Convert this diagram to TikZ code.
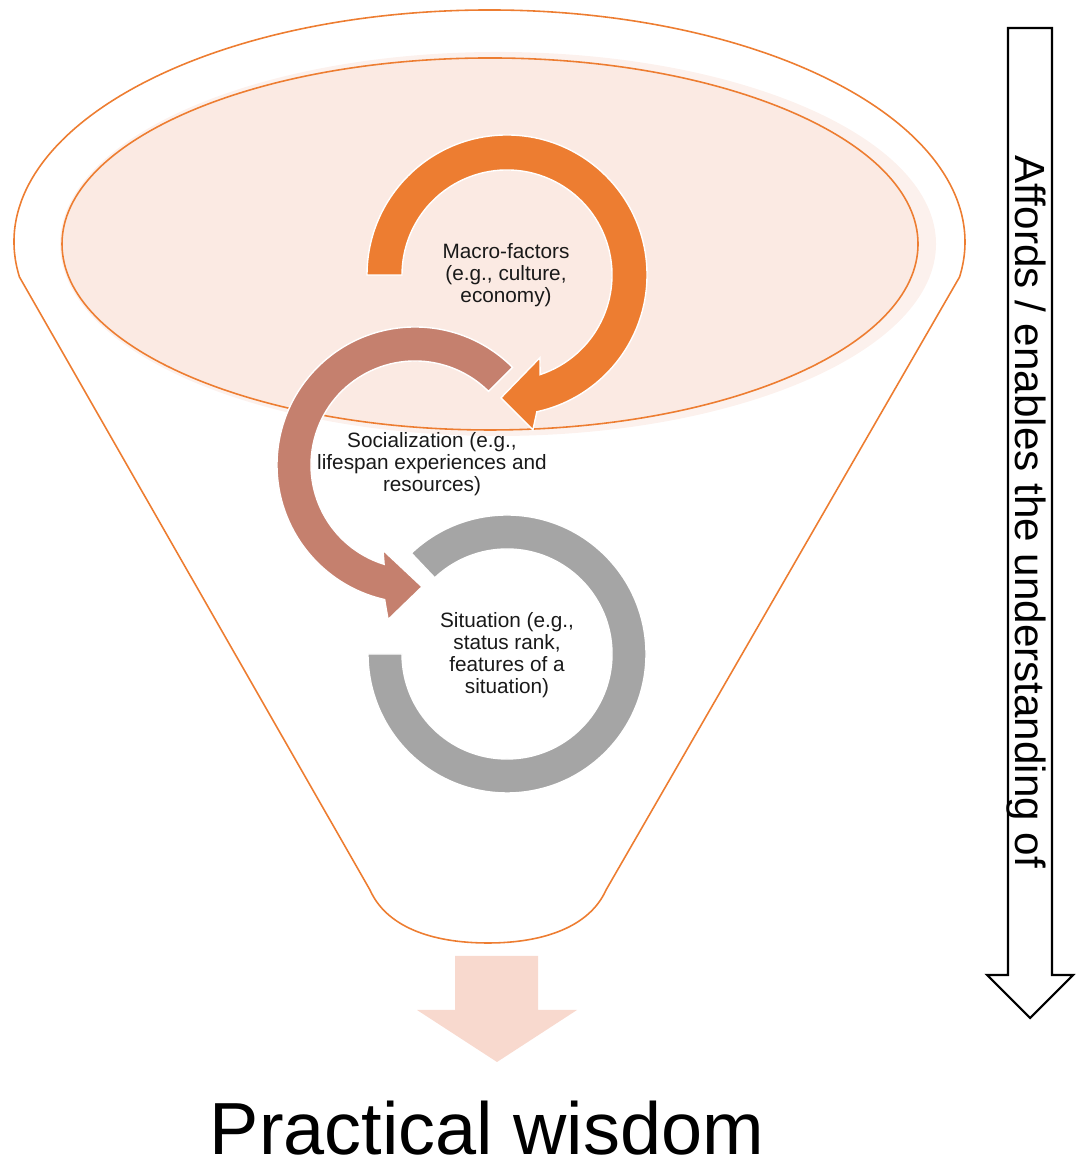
\documentclass[tikz,border=0pt]{standalone}
\usepackage{fontspec}
\setmainfont{Liberation Sans}
\usepackage{tikz}
\usetikzlibrary{calc}
\definecolor{macroOrange}{HTML}{ED7D31}
\definecolor{socialRose}{HTML}{C5806E}
\definecolor{situGray}{HTML}{A5A5A5}
\definecolor{funnelFill}{HTML}{FBEAE3}
\definecolor{funnelGlow}{HTML}{FCF1ED}
\definecolor{wisdomPink}{HTML}{F8D9CE}

\begin{document}
\begin{tikzpicture}[x=0.01cm, y=0.01cm,
        every node/.style={inner sep=0pt, align=center},
        ringtext/.style={font=\fontsize{5.9}{6.26}\selectfont, text=black!90},
        ring/.style={draw=white, line width=0.4pt},
        funnelline/.style={draw=macroOrange, line width=0.45pt}]
    \useasboundingbox (0,0) rectangle (1075,1171);

    % Funnel
    \draw[funnelline] (489.5,929) ++(188.7:475.5 and 232)
        arc[start angle=188.7, end angle=-8.7, x radius=475.5, y radius=232]
        -- (606,281) .. controls (590,245) and (545,228) .. (488,228)
        .. controls (430,228) and (386,245) .. (370,281) -- cycle;
    \fill[funnelGlow] (498,927) ellipse[x radius=438, y radius=192];
    \filldraw[fill=funnelFill, funnelline] (490,927) ellipse[x radius=428, y radius=186];

    % Define the ring centres
    \coordinate (mc) at (507,896);
    \coordinate (sc) at (415,706);
    \coordinate (gc) at (507,517);

    % Circular arrows
    \filldraw[fill=macroOrange, ring] ($(mc)+(180:140)$)
        arc[start angle=180, end angle=-77.7, radius=140]
        -- ($(mc)+(-80.5:157)$) -- ($(mc)+(-92.8:123)$) -- ($(mc)+(-68.3:89)$)
        -- ($(mc)+(-71.6:105)$) arc[start angle=-71.6, end angle=180, radius=105] -- cycle;
    \filldraw[fill=socialRose, ring] ($(sc)+(45:138)$)
        arc[start angle=45, end angle=257.3, radius=138]
        -- ($(sc)+(260.1:157)$) -- ($(sc)+(273.3:122)$) -- ($(sc)+(249.4:91)$)
        -- ($(sc)+(252.7:104)$) arc[start angle=252.7, end angle=45, radius=104] -- cycle;
    \filldraw[fill=situGray, ring] ($(gc)+(133.5:139)$)
        arc[start angle=133.5, end angle=-180, radius=139]
        -- ($(gc)+(-180:105)$) arc[start angle=-180, end angle=133.5, radius=105] -- cycle;

    % Define the nodes
    \node[ringtext] (macro) at (506,896) {Macro-factors\\(e.g., culture,\\economy)};
    \node[ringtext] (social) at (432,707) {Socialization (e.g.,\\lifespan experiences and\\resources)};
    \node[ringtext] (situation) at (507,516) {Situation (e.g.,\\status rank,\\features of a\\situation)};

    % Output arrow
    \fill[wisdomPink] (455,215) -- (538,215) -- (538,161) -- (577,161) -- (497,109)
        -- (417,161) -- (455,161) -- cycle;
    \node[font=\fontsize{21}{25}\selectfont, anchor=base] (wisdom) at (487,16) {Practical wisdom};

    % Side arrow
    \draw[line width=0.6pt] (1008,1143) -- (1052,1143) -- (1052,196) -- (1073,196)
        -- (1030,153) -- (987,196) -- (1008,196) -- cycle;
    \node[rotate=-90, font=\fontsize{12}{14}\selectfont] (affords) at (1026,659)
        {Affords / enables the understanding of};
\end{tikzpicture}
\end{document}
